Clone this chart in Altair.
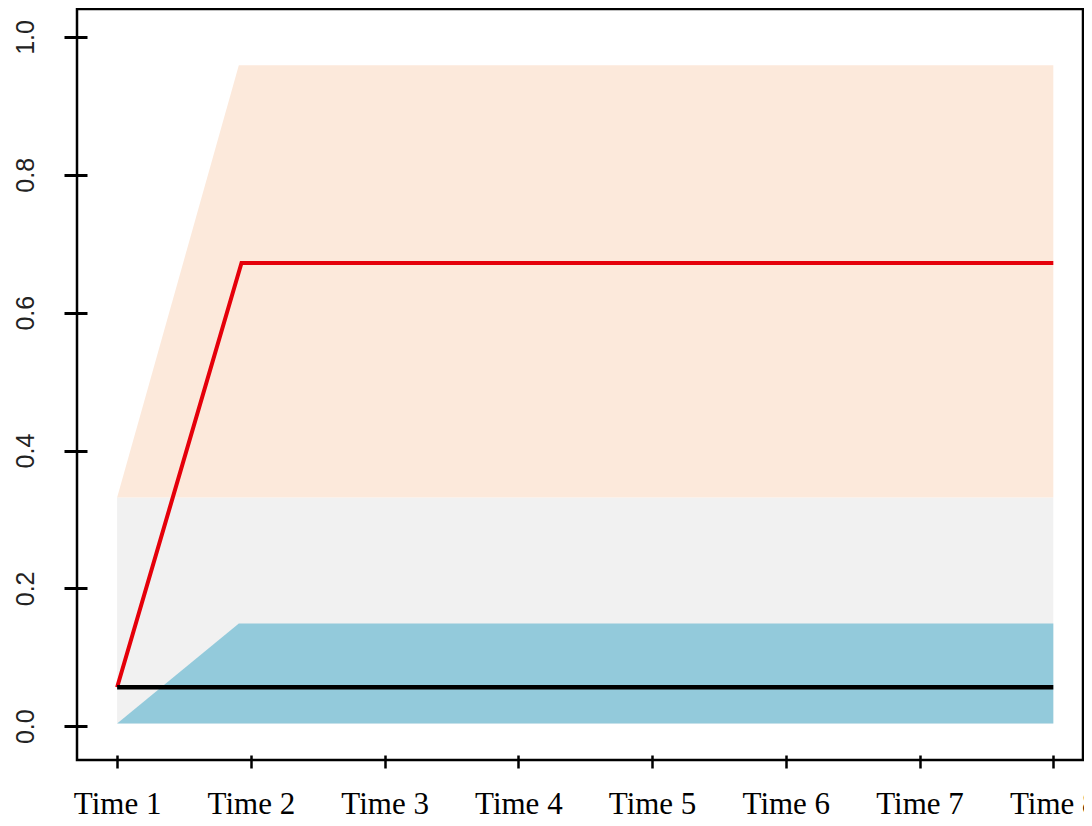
import altair as alt
import pandas as pd

# Band corner positions (x in time units) and values
band_x = [1, 1.91, 8]
upper_band_low = [0.332, 0.332, 0.332]
upper_band_high = [0.332, 0.959, 0.959]
lower_band_low = [0.004, 0.004, 0.004]
lower_band_high = [0.004, 0.149, 0.149]

mid_x = [1, 8]
mid_low = [0.004, 0.004]
mid_high = [0.332, 0.332]

red_x = [1, 1.93, 8]
red_y = [0.0565, 0.672, 0.672]

black_x = [1, 8]
black_y = [0.0565, 0.0565]

tick_times = [1, 2, 3, 4, 5, 6, 7, 8]
y_ticks = [0.0, 0.2, 0.4, 0.6, 0.8, 1.0]

xscale = alt.Scale(domain=[0.70, 8.222], nice=False, zero=False)
yscale = alt.Scale(domain=[-0.049, 1.0406], nice=False, zero=False)

xaxis = alt.Axis(values=tick_times, labelExpr="'Time ' + datum.value", title=None,
                 grid=False, domain=False, offset=-5, tickSize=13, tickWidth=2.5,
                 tickColor="black", labelFont="Liberation Serif", labelFontSize=31,
                 labelColor="black", labelPadding=21, labelFlush=False, labelOverlap=False)
yaxis = alt.Axis(values=y_ticks, format=".1f", title=None, grid=False, domain=False,
                 offset=-10, tickSize=23, tickWidth=3, tickColor="black",
                 labelAngle=270, labelAlign="center", labelBaseline="alphabetic",
                 labelFont="Liberation Sans", labelFontSize=25, labelColor="#222",
                 labelPadding=31, labelFlush=False, labelOverlap=False)

mid_df = pd.DataFrame({"x": mid_x, "lo": mid_low, "hi": mid_high})
up_df = pd.DataFrame({"x": band_x, "lo": upper_band_low, "hi": upper_band_high})
low_df = pd.DataFrame({"x": band_x, "lo": lower_band_low, "hi": lower_band_high})
red_df = pd.DataFrame({"x": red_x, "y": red_y})
black_df = pd.DataFrame({"x": black_x, "y": black_y})

gray = alt.Chart(mid_df).mark_area(color="#F1F1F1", opacity=1).encode(
    x=alt.X("x:Q", scale=xscale, axis=xaxis),
    y=alt.Y("lo:Q", scale=yscale, axis=yaxis),
    y2="hi:Q")
peach = alt.Chart(up_df).mark_area(color="#FCE9DB", opacity=1).encode(
    x=alt.X("x:Q", scale=xscale), y=alt.Y("lo:Q", scale=yscale), y2="hi:Q")
blue = alt.Chart(low_df).mark_area(color="#93CADB", opacity=1).encode(
    x=alt.X("x:Q", scale=xscale), y=alt.Y("lo:Q", scale=yscale), y2="hi:Q")
red = alt.Chart(red_df).mark_line(color="#E5000A", strokeWidth=4).encode(
    x=alt.X("x:Q", scale=xscale), y=alt.Y("y:Q", scale=yscale))
black = alt.Chart(black_df).mark_line(color="black", strokeWidth=4.5).encode(
    x=alt.X("x:Q", scale=xscale), y=alt.Y("y:Q", scale=yscale))

chart = alt.layer(gray, peach, blue, red, black).properties(
    width=1006, height=751,
    autosize=alt.AutoSizeParams(type="none"),
    padding={"left": 69, "top": 1, "right": 1, "bottom": 58},
    background="white",
).configure_view(stroke="black", strokeWidth=2.5)

chart.save("out.html", embed_options={"renderer": "svg", "actions": False})
